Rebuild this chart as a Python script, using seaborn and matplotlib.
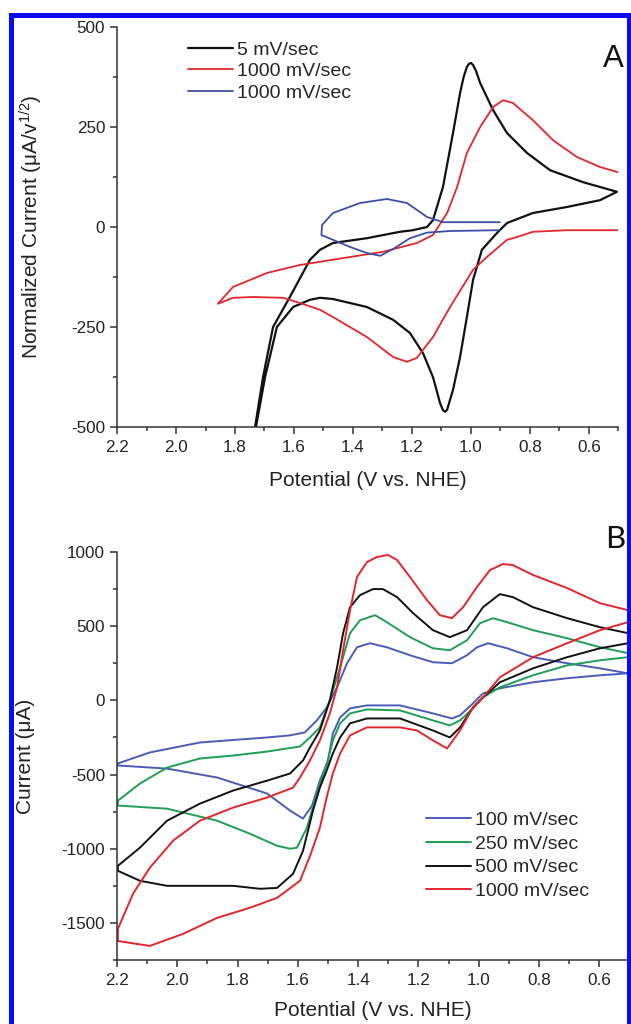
import matplotlib
matplotlib.use("Agg")
import matplotlib.pyplot as plt
import seaborn as sns
from matplotlib.patches import Rectangle
from matplotlib.ticker import MultipleLocator, FormatStrFormatter

# ---- Panel A : normalized CVs (E in V vs NHE, I in uA/v^1/2) ----
a_black_E = [1.732, 1.705, 1.671, 1.614, 1.546, 1.512, 1.468, 1.353, 1.241, 1.197, 1.149, 1.129,
             1.095, 1.061, 1.037, 1.025, 1.014, 1.007, 1.000, 0.993, 0.983, 0.969, 0.925, 0.878,
             0.810, 0.732, 0.620, 0.505,
             0.563, 0.675, 0.790, 0.878, 0.912, 0.963, 0.993, 1.014, 1.037, 1.061, 1.081, 1.088,
             1.095, 1.105, 1.129, 1.163, 1.207, 1.264, 1.353, 1.468, 1.512, 1.546, 1.603, 1.658,
             1.698, 1.729]
a_black_I = [-500, -375, -250, -175, -82, -57, -40, -28, -12, -8, 0, 17,
             100, 235, 335, 375, 400, 408, 410, 405, 390, 360, 292, 235,
             185, 142, 112, 88,
             67, 50, 35, 10, -15, -57, -132, -225, -325, -407, -457, -462,
             -458, -440, -375, -315, -265, -232, -200, -180, -177, -182, -200, -250,
             -375, -500]

a_red_E = [0.502, 0.675, 0.790, 0.844, 0.878, 0.946, 0.993, 1.071, 1.129, 1.183, 1.217, 1.264,
           1.353, 1.468, 1.512, 1.580, 1.637, 1.739, 1.807, 1.858,
           1.807, 1.692, 1.580, 1.512, 1.410, 1.298, 1.183, 1.129, 1.081, 1.047, 1.014, 0.969,
           0.925, 0.891, 0.858, 0.790, 0.722, 0.641, 0.563, 0.502]
a_red_I = [-8, -8, -12, -25, -32, -75, -107, -200, -275, -327, -337, -325,
           -275, -225, -207, -190, -177, -175, -177, -192,
           -150, -115, -95, -87, -75, -62, -40, -20, 35, 100, 185, 250,
           300, 317, 310, 267, 217, 175, 150, 137]

a_blue_E = [0.902, 1.095, 1.149, 1.217, 1.285, 1.376, 1.468, 1.505, 1.507, 1.468, 1.410, 1.353,
            1.308, 1.264, 1.207, 1.149, 1.071, 0.902]
a_blue_I = [12, 12, 25, 60, 70, 60, 35, 5, -20, -32, -50, -65,
            -72, -55, -28, -14, -10, -8]

a_labels = ["5 mV/sec", "1000 mV/sec", "1000 mV/sec"]

# ---- Panel B : CVs at several scan rates (I in uA) ----
b_blue_E = [0.505, 0.598, 0.707, 0.820, 0.906, 0.969, 1.006, 1.039, 1.089, 1.152, 1.228, 1.305,
            1.361, 1.404, 1.437, 1.470, 1.504, 1.537, 1.577, 1.626, 1.702, 1.925, 2.091, 2.197,
            2.197, 2.034, 1.868, 1.702, 1.626, 1.583, 1.553, 1.527, 1.500, 1.484, 1.460, 1.427,
            1.371, 1.261, 1.152, 1.089, 1.062, 1.019, 0.986, 0.930, 0.820, 0.707, 0.598, 0.505]
b_blue_I = [182, 216, 250, 291, 351, 385, 358, 304, 250, 257, 304, 358,
            385, 358, 250, 88, -47, -135, -216, -236, -250, -284, -351, -425,
            -439, -460, -520, -628, -743, -797, -709, -540, -405, -223, -115, -54,
            -34, -34, -88, -122, -101, -20, 47, 81, 122, 149, 169, 182]

b_green_E = [0.505, 0.598, 0.707, 0.820, 0.906, 0.953, 0.996, 1.039, 1.096, 1.152, 1.228, 1.305,
             1.344, 1.394, 1.427, 1.460, 1.494, 1.527, 1.560, 1.593, 1.702, 1.815, 1.925, 2.034,
             2.124, 2.197,
             2.197, 2.034, 1.868, 1.759, 1.669, 1.626, 1.603, 1.570, 1.537, 1.504, 1.484, 1.460,
             1.427, 1.371, 1.261, 1.152, 1.096, 1.062, 1.019, 0.986, 0.930, 0.820, 0.707, 0.598, 0.505]
b_green_I = [318, 358, 419, 473, 527, 554, 520, 405, 338, 351, 426, 527,
             574, 540, 453, 223, 0, -182, -250, -311, -345, -372, -392, -453,
             -561, -676,
             -709, -730, -811, -899, -980, -1000, -993, -858, -628, -430, -270, -155,
             -88, -61, -68, -135, -169, -135, -54, 20, 88, 169, 236, 270, 291]

b_black_E = [0.505, 0.598, 0.707, 0.820, 0.887, 0.930, 0.986, 1.039, 1.096, 1.152, 1.218, 1.271,
             1.318, 1.351, 1.394, 1.427, 1.450, 1.470, 1.494, 1.527, 1.560, 1.583, 1.626, 1.702,
             1.815, 1.925, 2.034, 2.124, 2.197,
             2.197, 2.124, 2.034, 1.925, 1.815, 1.726, 1.669, 1.616, 1.583, 1.550, 1.527, 1.504,
             1.484, 1.460, 1.427, 1.371, 1.261, 1.152, 1.096, 1.062, 1.019, 0.986, 0.930, 0.820,
             0.707, 0.598, 0.505]
b_black_I = [453, 493, 554, 628, 696, 716, 628, 473, 426, 473, 588, 696,
             750, 750, 709, 628, 453, 223, 0, -203, -318, -405, -493, -541,
             -608, -696, -811, -993, -1115,
             -1149, -1216, -1250, -1250, -1250, -1270, -1264, -1169, -1014, -743, -588, -470,
             -358, -250, -155, -122, -122, -203, -250, -182, -47, 20, 122, 216,
             291, 351, 385]

b_red_E = [0.505, 0.598, 0.707, 0.820, 0.887, 0.920, 0.963, 1.006, 1.052, 1.089, 1.129, 1.172,
           1.228, 1.271, 1.301, 1.338, 1.371, 1.404, 1.427, 1.450, 1.470, 1.494, 1.527, 1.560,
           1.593, 1.616, 1.702, 1.815, 1.925, 2.014, 2.091, 2.147, 2.197,
           2.197, 2.091, 1.981, 1.868, 1.759, 1.669, 1.593, 1.560, 1.527, 1.504, 1.484, 1.460,
           1.427, 1.371, 1.261, 1.205, 1.152, 1.105, 1.062, 1.019, 0.986, 0.930, 0.820, 0.707,
           0.598, 0.505]
b_red_I = [608, 655, 757, 845, 912, 919, 878, 764, 628, 554, 574, 676,
           831, 946, 980, 966, 932, 831, 608, 338, 88, -88, -270, -405,
           -520, -588, -655, -723, -811, -946, -1128, -1304, -1540,
           -1622, -1655, -1574, -1466, -1398, -1331, -1216, -1050, -858, -650, -493, -358,
           -236, -182, -182, -203, -270, -324, -203, -47, 20, 155, 291, 385,
           473, 527]

b_labels = ["100 mV/sec", "250 mV/sec", "500 mV/sec", "1000 mV/sec"]

RED = "#e4262c"
BLACK = "#111111"
BLUE_A = "#3c4ea6"
BLUE_B = "#4b5cb8"
GREEN = "#1f9e55"

sns.set_theme(style="ticks")
plt.rcParams["font.family"] = ["Liberation Sans", "DejaVu Sans"]
plt.rcParams["mathtext.default"] = "regular"
plt.rcParams["axes.unicode_minus"] = False

fig = plt.figure(figsize=(6.31, 10.24), dpi=100)
axA = fig.add_axes([117 / 631, 1 - 427 / 1024, 501.5 / 631, 400 / 1024])
axB = fig.add_axes([117 / 631, 1 - 960 / 1024, 512.5 / 631, 408 / 1024])

line_kw = dict(sort=False, estimator=None, solid_joinstyle="round", solid_capstyle="round")

# panel A curves
sns.lineplot(x=a_black_E, y=a_black_I, color=BLACK, lw=1.6, label=a_labels[0], ax=axA, **line_kw)
sns.lineplot(x=a_red_E, y=a_red_I, color=RED, lw=1.3, label=a_labels[1], ax=axA, **line_kw)
sns.lineplot(x=a_blue_E, y=a_blue_I, color=BLUE_A, lw=1.3, label=a_labels[2], ax=axA, **line_kw)

# panel B curves
for E, I, c, lab in [(b_blue_E, b_blue_I, BLUE_B, b_labels[0]),
                     (b_green_E, b_green_I, GREEN, b_labels[1]),
                     (b_black_E, b_black_I, BLACK, b_labels[2]),
                     (b_red_E, b_red_I, RED, b_labels[3])]:
    sns.lineplot(x=E, y=I, color=c, lw=1.4, label=lab, ax=axB, **line_kw)

for ax in (axA, axB):
    ax.set_xlim(2.2, 0.5)
    ax.xaxis.set_major_locator(MultipleLocator(0.2))
    ax.xaxis.set_minor_locator(MultipleLocator(0.1))
    ax.xaxis.set_major_formatter(FormatStrFormatter("%.1f"))
    sns.despine(ax=ax)
    for s in ("left", "bottom"):
        ax.spines[s].set_linewidth(1.1)
        ax.spines[s].set_color("#333333")
    ax.tick_params(which="major", direction="out", length=5, width=1.1, labelsize=12.3,
                   colors="#333333", labelcolor="#222222")
    ax.tick_params(which="minor", direction="out", length=3, width=1.1, colors="#333333")
    ax.tick_params(axis="x", which="major", pad=4.5)
    ax.tick_params(axis="y", which="major", pad=3.5)
    ax.grid(False)
    ax.set_facecolor("white")

axA.set_ylim(-500, 500)
axA.yaxis.set_major_locator(MultipleLocator(250))
axA.yaxis.set_minor_locator(MultipleLocator(125))
axB.set_ylim(-1750, 1000)
axB.yaxis.set_major_locator(MultipleLocator(500))
axB.yaxis.set_minor_locator(MultipleLocator(250))

axA.set_xlabel("Potential (V vs. NHE)", fontsize=15, color="#222222")
axA.set_ylabel("Normalized Current (μA/v$^{1/2}$)", fontsize=15, color="#222222")
axA.xaxis.set_label_coords(0.5, -0.11)
axA.yaxis.set_label_coords(-0.1436, 0.5)

axB.set_xlabel("Potential (V vs. NHE)", fontsize=15, color="#222222")
axB.set_ylabel("Current (μA)", fontsize=15, color="#222222")
axB.xaxis.set_label_coords(0.5, -0.10)
axB.yaxis.set_label_coords(-0.16, 0.5)

axA.legend(loc="upper left", bbox_to_anchor=(0.1416, 0.965), frameon=False, fontsize=14,
           handlelength=2.3, handletextpad=0.2, labelspacing=0.2, borderpad=0, borderaxespad=0)
axB.legend(loc="upper left", bbox_to_anchor=(0.603, 0.365), frameon=False, fontsize=14,
           handlelength=2.3, handletextpad=0.2, labelspacing=0.32, borderpad=0, borderaxespad=0)

fig.text(613.5 / 631, 1 - 67 / 1024, "A", fontsize=22.5, ha="center", va="baseline", color="#111111")
fig.text(615 / 631, 1 - 548 / 1024, "B", fontsize=22.5, ha="center", va="baseline", color="#111111",
         family=["Lato", "DejaVu Sans"])

border = Rectangle((10.5 / 631, -0.05), (629 - 10.5) / 631, 1.05 - 14.5 / 1024,
                   transform=fig.transFigure, fill=False, edgecolor="#0a0af5", lw=3.6, zorder=10)
fig.add_artist(border)

fig.savefig("out.png", dpi=100)
